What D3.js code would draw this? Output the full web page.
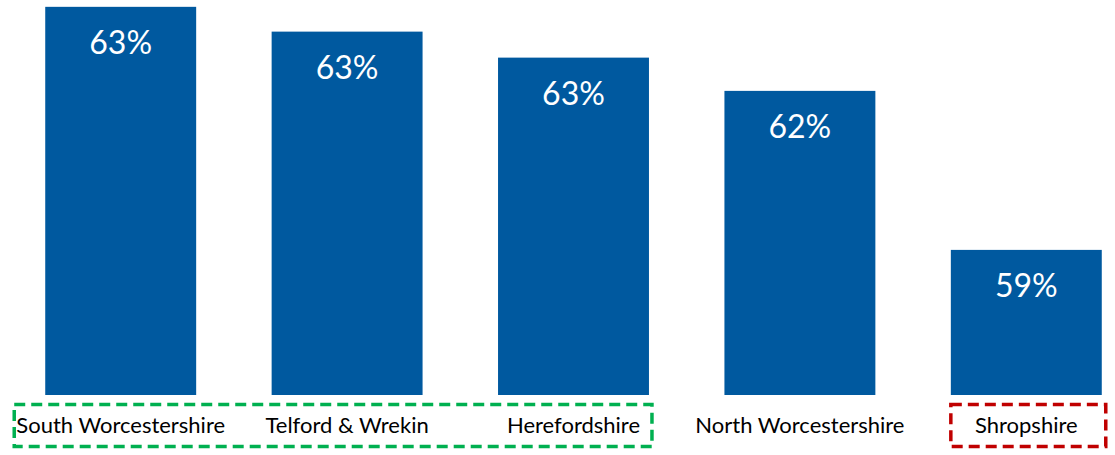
<!DOCTYPE html>
<html>
<head>
<meta charset="utf-8">
<script src="https://cdn.jsdelivr.net/npm/d3@7"></script>
<style>
  body { margin: 0; background: #fff; }
  svg { display: block; }
</style>
</head>
<body>
<div id="chart"></div>
<script>
// values (labels are rounded)
var areas = ["South Worcestershire", "Telford & Wrekin", "Herefordshire", "North Worcestershire", "Shropshire"];
var rates = [63.42, 63.01, 62.58, 62.03, 59.4];
var goodGroup = ["South Worcestershire", "Telford & Wrekin", "Herefordshire"];
var poorGroup = ["Shropshire"];

var width = 1115,
    height = 455,
    baseline = 395;

var svg = d3.select("#chart")
  .append("svg")
    .attr("width", width)
    .attr("height", height);

var x = d3.scaleBand()
    .domain(areas)
    .range([7.5, 1139.5])
    .paddingInner(1 / 3)
    .paddingOuter(1 / 6);

var y = d3.scaleLinear()
    .domain([57, 63.5])
    .range([baseline, 2]);

var data = areas.map(function(a, i) { return {area: a, value: rates[i]}; });

svg.selectAll(".bar")
  .data(data)
  .enter()
  .append("rect")
    .attr("class", "bar")
    .attr("x", function(d) { return x(d.area); })
    .attr("y", function(d) { return y(d.value); })
    .attr("width", x.bandwidth())
    .attr("height", function(d) { return baseline - y(d.value); })
    .attr("fill", "#00599F");

svg.selectAll(".val")
  .data(data)
  .enter()
  .append("text")
    .attr("class", "val")
    .attr("x", function(d) { return x(d.area) + x.bandwidth() / 2; })
    .attr("y", function(d) { return y(d.value) + 47; })
    .attr("text-anchor", "middle")
    .attr("fill", "#fff")
    .style("font-family", "Lato, 'Open Sans', sans-serif")
    .style("font-size", "32px")
    .text(function(d) { return Math.round(d.value) + "%"; });

svg.selectAll(".cat")
  .data(areas)
  .enter()
  .append("text")
    .attr("class", "cat")
    .attr("x", function(d) { return x(d) + x.bandwidth() / 2; })
    .attr("y", 433)
    .attr("text-anchor", "middle")
    .attr("fill", "#000")
    .style("font-family", "Lato, 'Open Sans', sans-serif")
    .style("font-size", "22px")
    .text(function(d) { return d; });

// dashed boxes round the highlighted groups
function groupBox(group, padL, padR, colour) {
  var x0 = x(group[0]) - padL;
  var x1 = x(group[group.length - 1]) + x.bandwidth() + padR;
  svg.append("rect")
    .attr("x", x0)
    .attr("y", 404.5)
    .attr("width", x1 - x0)
    .attr("height", 42)
    .attr("fill", "none")
    .attr("stroke", colour)
    .attr("stroke-width", 3.5)
    .attr("stroke-dasharray", "11,6");
}
groupBox(goodGroup, 31, 3, "#00B050");
groupBox(poorGroup, 0, 4, "#C00000");
</script>
</body>
</html>
